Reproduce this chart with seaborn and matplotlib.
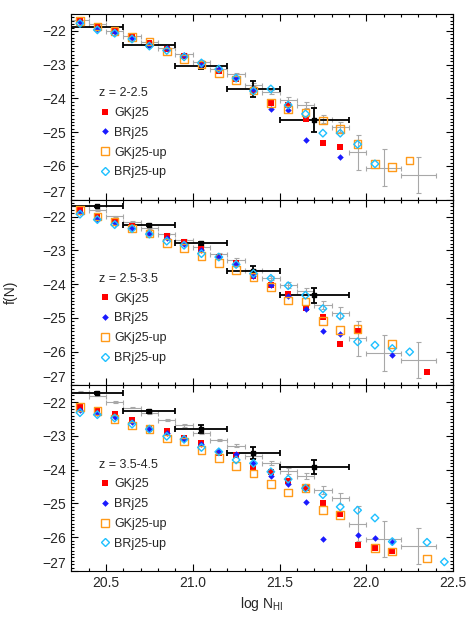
import numpy as np
import pandas as pd
import matplotlib
matplotlib.use("Agg")
import matplotlib.pyplot as plt
from matplotlib.ticker import MultipleLocator
from matplotlib.lines import Line2D
import seaborn as sns

nan = np.nan

# bin centres of the model curves (log N_HI)
logN = [20.35, 20.45, 20.55, 20.65, 20.75, 20.85, 20.95, 21.05, 21.15, 21.25, 21.35,
        21.45, 21.55, 21.65, 21.75, 21.85, 21.95, 22.05, 22.15, 22.25, 22.35, 22.45]

# z = 2-2.5
gk_z1 = [-21.68, -21.87, -22.01, -22.15, -22.37, -22.53, -22.75, -22.99, -23.18, -23.44, -23.76,
         -24.14, -24.19, -24.60, -25.33, -25.43, nan, nan, nan, nan, nan, nan]
br_z1 = [-21.75, -21.94, -22.04, -22.21, -22.41, -22.50, -22.71, -23.00, -23.13, -23.41, -23.73,
         -24.30, -24.35, -25.22, nan, -25.73, nan, nan, nan, nan, nan, nan]
gkup_z1 = [-21.70, -21.87, -22.01, -22.19, -22.31, -22.61, -22.84, -23.00, -23.26, -23.46, -23.77,
           -24.14, -24.33, -24.42, -24.66, -24.90, -25.36, -25.94, -26.04, -25.84, nan, nan]
brup_z1 = [-21.78, -21.97, -22.07, -22.24, -22.45, -22.58, -22.77, -22.95, -23.13, -23.40, -23.78,
           -23.72, -24.20, -24.46, -25.03, -25.03, -25.36, -25.94, nan, nan, nan, nan]

# z = 2.5-3.5
gk_z2 = [-21.78, -22.00, -22.13, -22.28, -22.50, -22.58, -22.76, -22.96, -23.19, -23.37, -23.77,
         -24.02, -24.30, -24.72, -24.98, -25.78, -25.39, nan, nan, nan, -26.60, nan]
br_z2 = [-21.88, -22.06, -22.20, -22.33, -22.50, -22.63, -22.80, -23.00, -23.19, -23.40, -23.77,
         -24.04, -24.34, -24.73, -25.38, -25.48, nan, nan, -26.10, nan, nan, nan]
gkup_z2 = [-21.80, -22.00, -22.15, -22.36, -22.50, -22.78, -22.93, -23.16, -23.37, -23.59, -23.79,
           -24.08, -24.49, -24.52, -25.10, -25.37, -25.33, nan, -25.78, nan, nan, nan]
brup_z2 = [-21.93, -22.09, -22.24, -22.36, -22.52, -22.73, -22.85, -23.10, -23.20, -23.42, -23.69,
           -23.83, -24.05, -24.33, -24.73, -24.95, -25.71, -25.81, -25.91, -26.01, nan, nan]

# z = 3.5-4.5
gk_z3 = [-22.15, -22.26, -22.36, -22.54, -22.78, -22.86, -23.05, -23.22, -23.50, -23.57, -23.93,
         -24.06, -24.32, -24.55, -24.99, -25.30, -26.22, -26.32, -26.42, nan, nan, nan]
br_z3 = [-22.22, -22.31, -22.44, -22.59, -22.78, -22.91, -23.10, -23.25, -23.45, -23.52, -23.81,
         -24.20, -24.42, -24.97, -26.04, nan, -25.92, -26.03, -26.13, nan, nan, nan]
gkup_z3 = [-22.15, -22.26, -22.49, -22.69, -22.80, -23.08, -23.16, -23.42, -23.65, -23.89, -24.11,
           -24.43, -24.67, -24.55, -25.19, -25.35, nan, -26.32, -26.42, nan, -26.63, nan]
brup_z3 = [-22.31, -22.37, -22.47, -22.65, -22.80, -23.01, -23.10, -23.34, -23.47, -23.71, -23.81,
           -24.06, -24.28, -24.55, -24.74, -25.10, -25.20, -25.43, -26.13, nan, -26.15, -26.73]

# fine-binned observations (grey, same in every panel)
obs_x = [20.35, 20.45, 20.55, 20.65, 20.75, 20.85, 20.95, 21.05, 21.15, 21.25, 21.35,
         21.45, 21.55, 21.65, 21.75, 21.85, 21.95, 22.10, 22.30]
obs_xerr = [0.05, 0.05, 0.05, 0.05, 0.05, 0.05, 0.05, 0.05, 0.05, 0.05, 0.05,
            0.05, 0.05, 0.05, 0.05, 0.05, 0.05, 0.10, 0.10]
obs_f = [-21.69, -21.81, -21.99, -22.16, -22.33, -22.52, -22.69, -22.91, -23.12, -23.29, -23.59,
         -23.81, -24.04, -24.20, -24.61, -24.85, -25.60, -26.05, -26.26]
obs_ferr = [0.02, 0.02, 0.02, 0.02, 0.03, 0.03, 0.03, 0.04, 0.04, 0.05, 0.05,
            0.06, 0.09, 0.09, 0.12, 0.16, 0.52, 0.54, 0.53]

# wide-binned observations (black), one set per redshift
wide_x = [20.45, 20.75, 21.05, 21.35, 21.70]
wide_xerr = [0.15, 0.15, 0.15, 0.15, 0.20]
wide_f_z1 = [-21.89, -22.43, -23.04, -23.72, -24.64]
wide_ferr_z1 = [0.03, 0.04, 0.10, 0.23, 0.37]
wide_f_z2 = [-21.70, -22.26, -22.79, -23.62, -24.33]
wide_ferr_z2 = [0.02, 0.03, 0.05, 0.15, 0.22]
wide_f_z3 = [-21.72, -22.27, -22.80, -23.50, -23.93]
wide_ferr_z3 = [0.03, 0.05, 0.12, 0.18, 0.21]

z_labels = ["z = 2-2.5", "z = 2.5-3.5", "z = 3.5-4.5"]

panels = [
    (gk_z1, br_z1, gkup_z1, brup_z1, wide_f_z1, wide_ferr_z1),
    (gk_z2, br_z2, gkup_z2, brup_z2, wide_f_z2, wide_ferr_z2),
    (gk_z3, br_z3, gkup_z3, brup_z3, wide_f_z3, wide_ferr_z3),
]

red = "#ff0000"
blue = "#1a1aff"
orange = "#ff9a1a"
cyan = "#1ec0ff"
grey = "#a8a8a8"

sns.set_style("ticks")
plt.rcParams["font.family"] = ["Liberation Sans", "DejaVu Sans"]
plt.rcParams["mathtext.fontset"] = "custom"
plt.rcParams["mathtext.rm"] = "Liberation Sans"
plt.rcParams["mathtext.it"] = "Liberation Sans"

fig, axes = plt.subplots(3, 1, figsize=(4.71, 6.28), dpi=100, sharex=True)
fig.subplots_adjust(left=0.1514, right=0.9618, bottom=0.0908, top=0.9777, hspace=0)

for i, ax in enumerate(axes):
    gk, br, gkup, brup, wf, wferr = panels[i]
    df = pd.DataFrame({"logN": logN, "GKj25": gk, "BRj25": br,
                       "GKj25-up": gkup, "BRj25-up": brup})

    ax.errorbar(obs_x, obs_f, xerr=obs_xerr, yerr=obs_ferr, fmt="none",
                ecolor=grey, elinewidth=0.8, capsize=1.8, capthick=0.8, zorder=1)
    ax.errorbar(wide_x, wf, xerr=wide_xerr, yerr=wferr, fmt="none",
                ecolor="black", elinewidth=1.3, capsize=2.2, capthick=1.3, zorder=2)
    ax.scatter(wide_x, wf, marker="s", s=6, color="black", zorder=2)

    sns.scatterplot(data=df, x="logN", y="GKj25", marker="s", s=20,
                    color=red, linewidth=0, ax=ax, zorder=3)
    sns.scatterplot(data=df, x="logN", y="BRj25", marker="D", s=11,
                    color=blue, linewidth=0, ax=ax, zorder=4)
    sns.scatterplot(data=df, x="logN", y="GKj25-up", marker="s", s=30,
                    facecolor="none", edgecolor=orange, linewidth=1.0, ax=ax, zorder=5)
    sns.scatterplot(data=df, x="logN", y="BRj25-up", marker="D", s=15,
                    facecolor="none", edgecolor=cyan, linewidth=1.0, ax=ax, zorder=6)

    handles = [
        Line2D([], [], ls="none", marker="s", ms=4.5, color=red, mew=0),
        Line2D([], [], ls="none", marker="D", ms=3.4, color=blue, mew=0),
        Line2D([], [], ls="none", marker="s", ms=5.5, mfc="none", mec=orange, mew=1.0),
        Line2D([], [], ls="none", marker="D", ms=3.9, mfc="none", mec=cyan, mew=1.0),
    ]
    ax.legend(handles, ["GKj25", "BRj25", "GKj25-up", "BRj25-up"], title=z_labels[i],
              loc="upper left", bbox_to_anchor=(0.072, 0.605), frameon=False,
              fontsize=9, title_fontsize=9, alignment="left", borderpad=0,
              borderaxespad=0, handlelength=1.0, handletextpad=0.25, labelspacing=0.62,
              numpoints=1)

    ax.set_xlim(20.3, 22.5)
    ax.set_ylim(-27.0, -21.5)
    ax.set_yticks([-27, -26, -25, -24, -23, -22])
    ax.set_xticks([20.5, 21.0, 21.5, 22.0, 22.5])
    ax.xaxis.set_minor_locator(MultipleLocator(0.1))
    ax.yaxis.set_minor_locator(MultipleLocator(0.1))
    ax.tick_params(which="both", direction="in", top=True, right=True, width=0.8,
                   labelsize=10, color="black")
    ax.tick_params(which="major", length=5)
    ax.tick_params(which="minor", length=2.5)
    for sp in ax.spines.values():
        sp.set_linewidth(0.8)
        sp.set_color("black")
    ax.set_xlabel("")
    ax.set_ylabel("")
    # lowest label sits just above the panel edge
    ax.yaxis.get_major_ticks()[0].label1.set_va("bottom")

axes[2].set_xticklabels(["20.5", "21.0", "21.5", "22.0", "22.5"])
axes[2].set_xlabel(r"log N$_{\rm HI}$", fontsize=10, labelpad=4)
axes[1].set_ylabel("f(N)", fontsize=10)
axes[1].yaxis.set_label_coords(-0.14, 0.5)

fig.savefig("out.png", dpi=100)
